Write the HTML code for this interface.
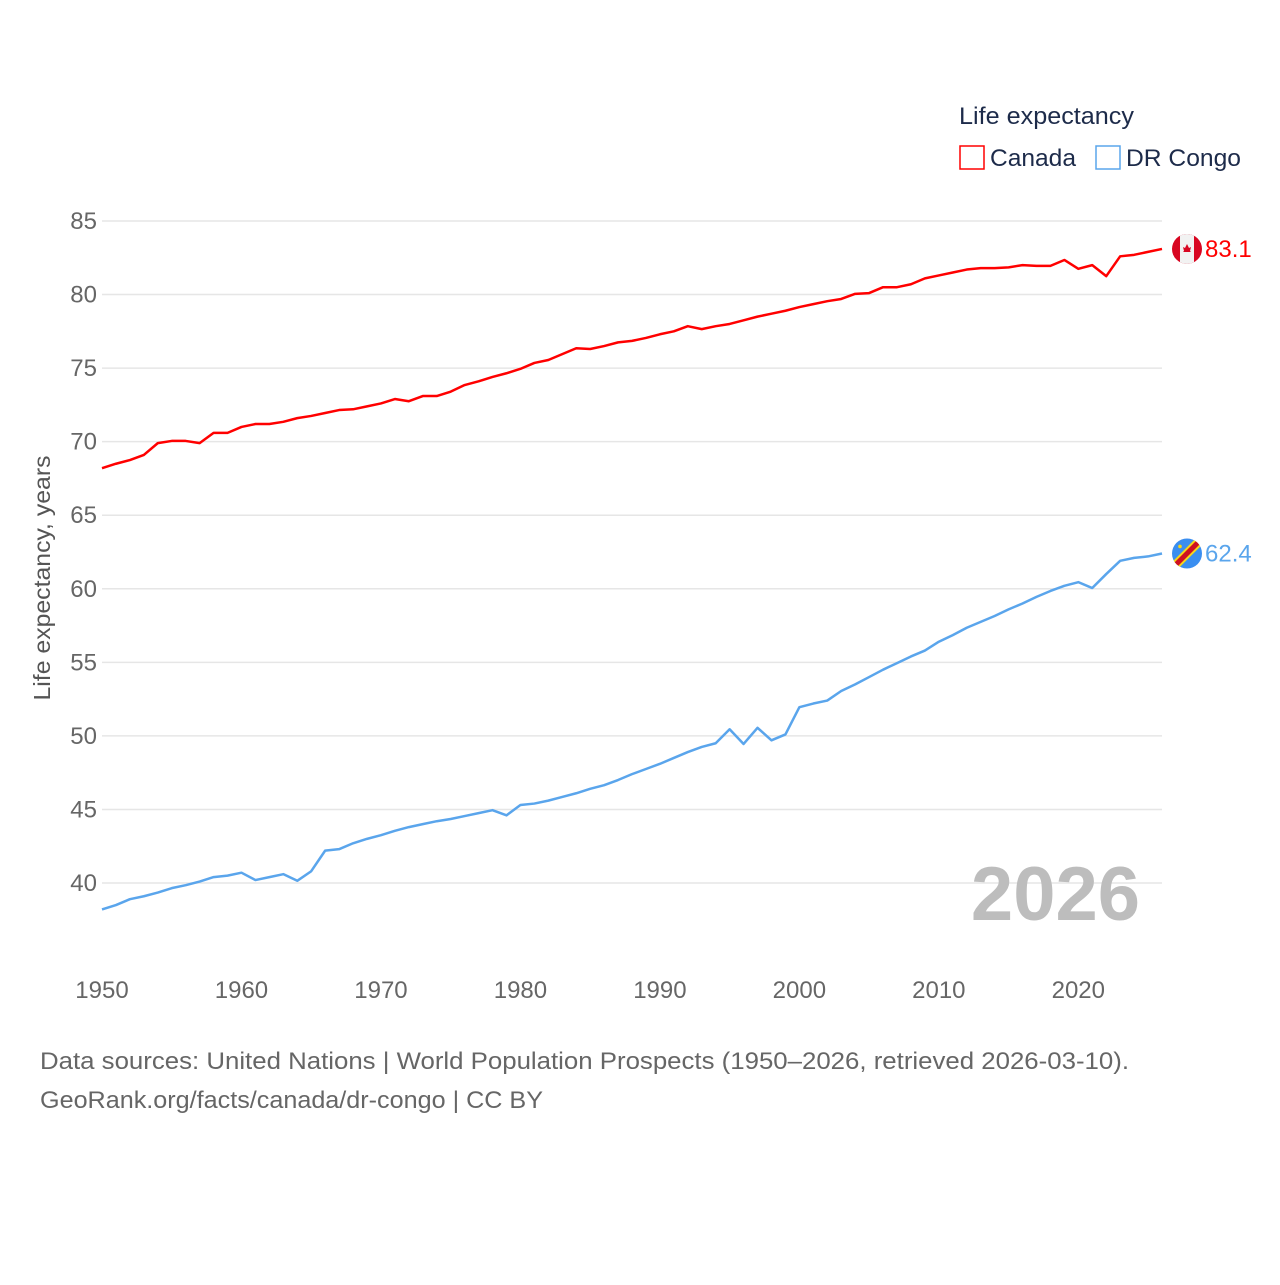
<!DOCTYPE html>
<html><head><meta charset="utf-8"><style>
body{margin:0;background:#fff;font-family:"Liberation Sans",sans-serif}
svg text{font-family:"Liberation Sans",sans-serif}
</style></head><body>
<svg id="chart" width="1280" height="1280" xmlns="http://www.w3.org/2000/svg">
<rect width="1280" height="1280" fill="#fff"/>
<g id="grid"></g><g id="yticks"></g><g id="xticks"></g>
<text transform="translate(50,578) rotate(-90)" text-anchor="middle" font-size="23" fill="#555" textLength="245" lengthAdjust="spacingAndGlyphs">Life expectancy, years</text>
<text x="1140" y="920" text-anchor="end" font-size="76" font-weight="bold" fill="#bdbdbd">2026</text>
<text x="959" y="124" font-size="24" fill="#1d2b4a" textLength="175" lengthAdjust="spacingAndGlyphs">Life expectancy</text>
<g><rect x="960" y="146" width="24" height="23" fill="none" stroke="#ff0000" stroke-width="1.5"/><text x="990" y="166" font-size="24" fill="#1d2b4a" textLength="86" lengthAdjust="spacingAndGlyphs">Canada</text></g>
<g><rect x="1096" y="146" width="24" height="23" fill="none" stroke="#5aa5ec" stroke-width="1.5"/><text x="1126" y="166" font-size="24" fill="#1d2b4a" textLength="115" lengthAdjust="spacingAndGlyphs">DR Congo</text></g>
<g id="series"></g>
<text x="40" y="1069" font-size="24" fill="#666" textLength="1089" lengthAdjust="spacingAndGlyphs">Data sources: United Nations | World Population Prospects (1950–2026, retrieved 2026-03-10).</text>
<text x="40" y="1108" font-size="24" fill="#666" textLength="503" lengthAdjust="spacingAndGlyphs">GeoRank.org/facts/canada/dr-congo | CC BY</text>
</svg>
<script>
const years=[];for(let y=1950;y<=2026;y++)years.push(y);
const canada=[68.2,68.5,68.75,69.1,69.9,70.05,70.05,69.9,70.6,70.6,71.0,71.2,71.2,71.35,71.6,71.75,71.95,72.15,72.2,72.4,72.6,72.9,72.75,73.1,73.1,73.4,73.85,74.1,74.4,74.65,74.95,75.35,75.55,75.95,76.35,76.3,76.5,76.75,76.85,77.05,77.3,77.5,77.85,77.65,77.85,78.0,78.25,78.5,78.7,78.9,79.15,79.35,79.55,79.7,80.05,80.1,80.5,80.5,80.7,81.1,81.3,81.5,81.7,81.8,81.8,81.85,82.0,81.95,81.95,82.35,81.75,82.0,81.25,82.6,82.7,82.9,83.1];
const congo=[38.2,38.5,38.9,39.1,39.35,39.65,39.85,40.1,40.4,40.5,40.7,40.2,40.4,40.6,40.15,40.8,42.2,42.3,42.7,43.0,43.25,43.55,43.8,44.0,44.2,44.35,44.55,44.75,44.95,44.6,45.3,45.4,45.6,45.85,46.1,46.4,46.65,47.0,47.4,47.75,48.1,48.5,48.9,49.25,49.5,50.45,49.45,50.55,49.7,50.1,51.95,52.2,52.4,53.05,53.5,54.0,54.5,54.95,55.4,55.8,56.4,56.85,57.35,57.75,58.15,58.6,59.0,59.45,59.85,60.2,60.45,60.05,61.0,61.9,62.1,62.2,62.4];
const yTicks=[40,45,50,55,60,65,70,75,80,85];
const xTicks=[1950,1960,1970,1980,1990,2000,2010,2020];
const NS="http://www.w3.org/2000/svg";
const X=y=>102+(y-1950)*(1162-102)/76;
const Y=v=>883-(v-40)*(883-221)/45;
function mk(t,a,p){const e=document.createElementNS(NS,t);for(const k in a)e.setAttribute(k,a[k]);p.appendChild(e);return e;}
const grid=document.getElementById('grid'),yt=document.getElementById('yticks'),xt=document.getElementById('xticks'),ser=document.getElementById('series');
yTicks.forEach(v=>{
 const l=mk('line',{x1:102,x2:1162,y1:Y(v),y2:Y(v),stroke:'#e6e6e6','stroke-width':1.5},grid);
 
 
 const t=mk('text',{x:97,y:Y(v)+8,'text-anchor':'end','font-size':24,fill:'#666'},yt);t.textContent=v;
 
 
});
xTicks.forEach(v=>{
 const t=mk('text',{x:X(v),y:998,'text-anchor':'middle','font-size':24,fill:'#666'},xt);t.textContent=v;
 
 
});
function line(data,color,name){
 const p=mk('polyline',{points:data.map((v,i)=>X(years[i])+','+Y(v)).join(' '),fill:'none',stroke:color,'stroke-width':2.5,'stroke-linejoin':'round'},ser);
 
 
}
line(canada,'#ff0000','canada-line');
line(congo,'#5aa5ec','dr-congo-line');
const cy=Y(canada[canada.length-1]),dy=Y(congo[congo.length-1]);
const cf=mk('g',{},ser);


const ccp=mk('clipPath',{id:'cc'},cf);mk('circle',{cx:1187,cy:cy,r:15},ccp);
const cg=mk('g',{'clip-path':'url(#cc)'},cf);
mk('rect',{x:1172,y:cy-15,width:30,height:30,fill:'#d80621'},cg);
mk('rect',{x:1180,y:cy-15,width:14,height:30,fill:'#f2f2f2'},cg);
mk('path',{d:`M1187 ${cy-5} l2 4 l2-1 l-1 4 l1 1 h-8 l1-1 l-1-4 l2 1z`,fill:'#d80621'},cg);
const cl=mk('text',{x:1205,y:cy+8,'font-size':24,fill:'#ff0000'},ser);cl.textContent=canada[canada.length-1].toFixed(1);


const df=mk('g',{},ser);


const dc=mk('clipPath',{id:'dcp'},df);mk('circle',{cx:1187,cy:dy,r:15},dc);
const dg=mk('g',{'clip-path':'url(#dcp)'},df);
mk('rect',{x:1172,y:dy-15,width:30,height:30,fill:'#3a8ef0'},dg);
mk('line',{x1:1174,y1:dy+13,x2:1200,y2:dy-13,stroke:'#f7d618','stroke-width':9},dg);
mk('line',{x1:1174,y1:dy+13,x2:1200,y2:dy-13,stroke:'#ce1021','stroke-width':5},dg);
mk('circle',{cx:1180,cy:dy-7,r:1.8,fill:'#f7d618'},dg);
const dl=mk('text',{x:1205,y:dy+8,'font-size':24,fill:'#5aa5ec'},ser);dl.textContent=congo[congo.length-1].toFixed(1);


</script>
</body></html>
